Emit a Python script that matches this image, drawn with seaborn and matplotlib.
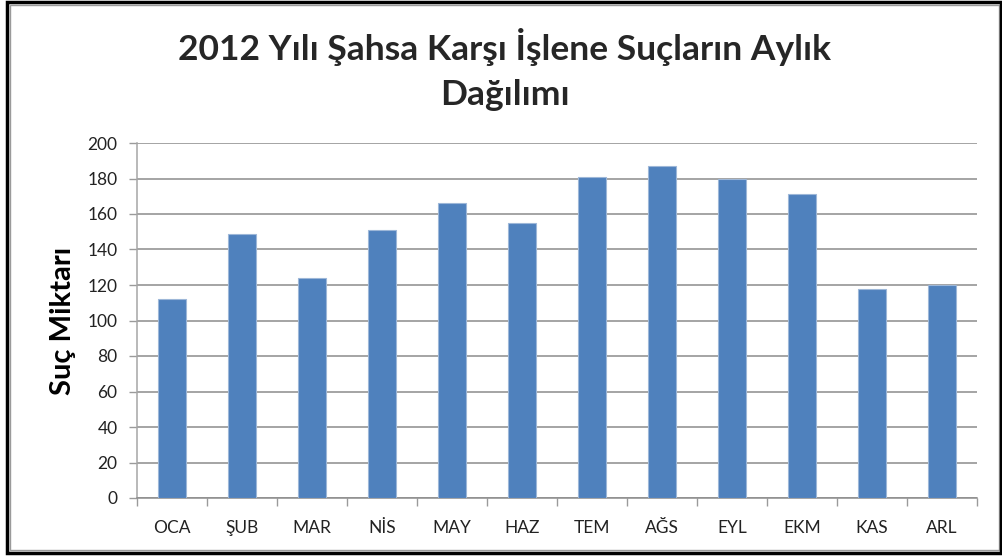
import matplotlib
matplotlib.use("Agg")
import matplotlib.pyplot as plt
from matplotlib.patches import Rectangle
import seaborn as sns
import pandas as pd
import numpy as np

months = ["OCA", "ŞUB", "MAR", "NİS", "MAY", "HAZ", "TEM", "AĞS", "EYL", "EKM", "KAS", "ARL"]
values = [112, 149, 124, 151, 166, 155, 181, 187, 180, 171, 118, 120]
yticks = [0, 20, 40, 60, 80, 100, 120, 140, 160, 180, 200]
title = "2012 Yılı Şahsa Karşı İşlene Suçların Aylık\nDağılımı"
ylabel = "Suç Miktarı"

sns.set_style("white")
plt.rcParams['font.family'] = ['Lato', 'DejaVu Sans']

W, H = 1003, 559
fig = plt.figure(figsize=(W / 100, H / 100), dpi=100)
ax = fig.add_axes([137 / W, (H - 498) / H, (977 - 137) / W, (498 - 143) / H])

df = pd.DataFrame({"month": months, "value": values})
sns.barplot(data=df, x="month", y="value", color="#4F81BD", width=0.39,
            edgecolor="#9DB7D8", linewidth=0.8, saturation=1, ax=ax, zorder=3)

ax.set_ylim(0, 200)
ax.set_xlim(-0.5, len(months) - 0.5)
ax.set_yticks(yticks)
ax.set_yticklabels([str(v) for v in yticks], fontsize=12.5, color="#222222")
ax.yaxis.grid(True, color="#8C8C8C", linewidth=1.1, zorder=0)
ax.set_axisbelow(True)
ax.tick_params(axis="y", direction="out", length=6, width=1, color="#9A9A9A", pad=8, left=True)

ax.set_xticks(range(len(months)))
ax.set_xticklabels(months, fontsize=12.5, color="#222222")
ax.tick_params(axis="x", which="major", length=0, pad=16)
ax.set_xticks(np.arange(-0.5, len(months), 1.0), minor=True)
ax.tick_params(axis="x", which="minor", direction="out", length=6, width=1, color="#9A9A9A", bottom=True)

for s in ["top", "right"]:
    ax.spines[s].set_visible(False)
ax.spines["left"].set_color("#A6A6A6")
ax.spines["bottom"].set_color("#8C8C8C")
ax.spines["left"].set_linewidth(1.1)
ax.spines["bottom"].set_linewidth(1.1)

ax.set_xlabel("")
ax.set_ylabel(ylabel, fontsize=21, fontweight="bold", color="black")
ax.yaxis.set_label_coords((76 - 137) / (977 - 137), 0.5)

fig.text(505 / W, 1 - 70 / H, title, ha="center", va="center", fontsize=25.5,
         fontweight="bold", linespacing=1.5)

# chart frame
fig.patches.append(Rectangle((7 / W, (H - 553) / H), (1001 - 7) / W, (553 - 2) / H,
                             transform=fig.transFigure, fill=False,
                             edgecolor="black", linewidth=2.5, zorder=10))
fig.patches.append(Rectangle((10 / W, (H - 550) / H), (999 - 10) / W, (550 - 5) / H,
                             transform=fig.transFigure, fill=False,
                             edgecolor="#9A9A9A", linewidth=1.0, zorder=9))

fig.savefig("out.png", dpi=100)
